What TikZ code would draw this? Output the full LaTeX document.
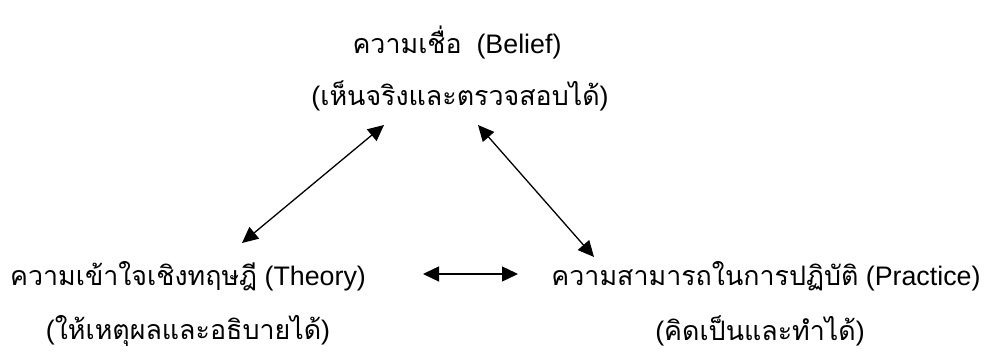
\documentclass[tikz,border=0pt]{standalone}
\usepackage{fontspec}
\usetikzlibrary{arrows.meta}
\newfontfamily\thaifont[Script=Thai]{Loma}
\setmainfont{Liberation Sans}
\begin{document}
\begin{tikzpicture}[x=1pt,y=-1pt,
  lbl/.style={inner sep=0pt,font=\fontsize{26.8}{30}\selectfont},
  conn/.style={line width=1.3pt,{Triangle[length=16pt,width=15pt]}-{Triangle[length=16pt,width=15pt]}}]
\useasboundingbox (0,0) rectangle (989,352);
\node[lbl] (belief) at (457,42) {{\thaifont ความเชื่อ}\ \ (Belief)};
\node[lbl] (beliefsub) at (460,96) {({\thaifont เห็นจริงและตรวจสอบได้})};
\node[lbl] (theory) at (188,276) {{\thaifont ความเข้าใจเชิงทฤษฎี} (Theory)};
\node[lbl] (theorysub) at (188,331) {({\thaifont ให้เหตุผลและอธิบายได้})};
\node[lbl] (practice) at (766,276) {{\thaifont ความสามารถในการปฏิบัติ} (Practice)};
\node[lbl] (practicesub) at (760,331) {({\thaifont คิดเป็นและทำได้})};
\coordinate (a1) at (242,243);
\coordinate (a2) at (384,125);
\coordinate (b1) at (478,125);
\coordinate (b2) at (594,257);
\coordinate (c1) at (423,274);
\coordinate (c2) at (518,274);
\draw[conn] (a1) -- (a2);
\draw[conn] (b1) -- (b2);
\draw[conn] (c1) -- (c2);
\end{tikzpicture}
\end{document}
